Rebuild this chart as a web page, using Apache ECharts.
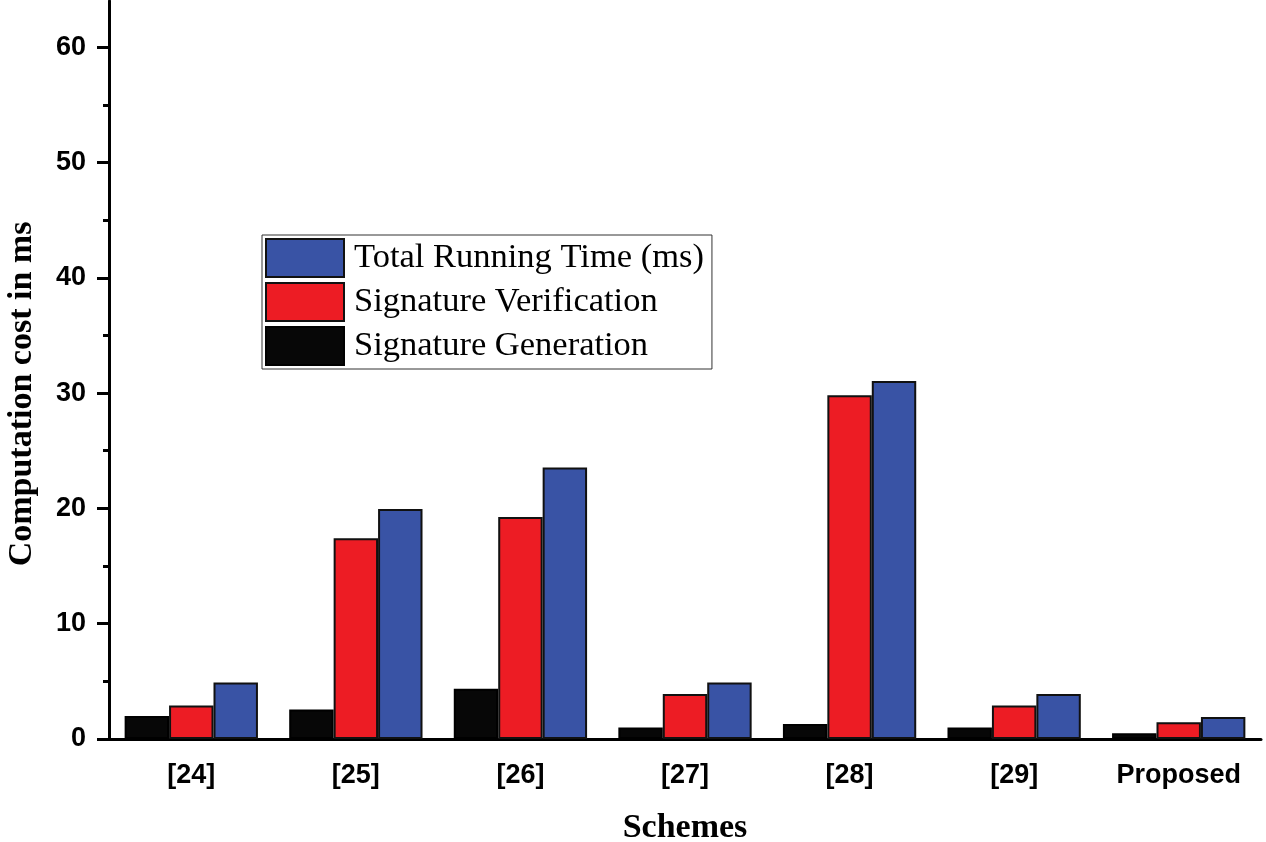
<!DOCTYPE html>
<html>
<head>
<meta charset="utf-8">
<script src="https://cdn.jsdelivr.net/npm/echarts@6/dist/echarts.min.js"></script>
<style>
html,body{margin:0;padding:0;background:#fff;}
#c{width:1266px;height:842px;}
</style>
</head>
<body>
<div id="c"></div>
<script>
const categories = ['[24]', '[25]', '[26]', '[27]', '[28]', '[29]', 'Proposed'];
const signatureGeneration = [2, 2.55, 4.35, 1, 1.3, 1, 0.5];
const signatureVerification = [2.9, 17.4, 19.25, 3.9, 29.8, 2.9, 1.45];
const totalRunningTime = [4.9, 19.95, 23.55, 4.9, 31.05, 3.9, 1.9];
const majorTicks = [0, 10, 20, 30, 40, 50, 60];
const minorTicks = [5, 15, 25, 35, 45, 55];
const seriesNames = ['Signature Generation', 'Signature Verification', 'Total Running Time (ms)'];

const chart = echarts.init(document.getElementById('c'), null, {renderer: 'canvas'});
const axisCol = '#000';
const barBase = {
  type: 'bar',
  barGap: '0%',
  barCategoryGap: '19%',
  xAxisIndex: 0,
  yAxisIndex: 0
};
chart.setOption({
  animation: false,
  backgroundColor: '#fff',
  grid: {left: 109, right: 5, top: 1, bottom: 103, containLabel: false, outerBoundsMode: 'none'},
  legend: {
    orient: 'vertical',
    left: 262,
    top: 235,
    data: [seriesNames[2], seriesNames[1], seriesNames[0]],
    icon: 'rect',
    itemWidth: 78,
    itemHeight: 38,
    itemGap: 4,
    padding: [3, 8, 3, 3],
    borderColor: '#333',
    borderWidth: 1,
    borderRadius: 0,
    textStyle: {fontFamily: 'Liberation Serif', fontSize: 34.5, color: '#000', padding: [0, 0, 0, 5]}
  },
  xAxis: [{
    type: 'category',
    data: categories,
    axisLine: {lineStyle: {color: axisCol, width: 3}},
    axisTick: {alignWithLabel: true, length: 12, lineStyle: {color: axisCol, width: 3}},
    axisLabel: {fontFamily: 'Liberation Sans', fontWeight: 'bold', fontSize: 27, color: '#000', margin: 23},
    name: 'Schemes',
    nameLocation: 'middle',
    nameGap: 72,
    nameTextStyle: {fontFamily: 'Liberation Serif', fontWeight: 'bold', fontSize: 34, color: '#000'}
  }, {
    type: 'category',
    data: categories,
    position: 'bottom',
    axisLine: {show: false},
    axisTick: {length: 7, lineStyle: {color: axisCol, width: 3}},
    axisLabel: {show: false}
  }],
  yAxis: [{
    type: 'value',
    min: 0,
    max: 64,
    interval: 10,
    splitLine: {show: false},
    axisLine: {show: true, lineStyle: {color: axisCol, width: 3}},
    axisTick: {show: true, length: 12, customValues: majorTicks, lineStyle: {color: axisCol, width: 3}},
    axisLabel: {customValues: majorTicks, fontFamily: 'Liberation Sans', fontWeight: 'bold', fontSize: 27, color: '#000', margin: 23},
    name: 'Computation cost in ms',
    nameLocation: 'middle',
    nameGap: 70,
    nameTextStyle: {fontFamily: 'Liberation Serif', fontWeight: 'bold', fontSize: 34, color: '#000', padding: [0, 48, 0, 0]}
  }, {
    type: 'value',
    min: 0,
    max: 64,
    interval: 10,
    position: 'left',
    splitLine: {show: false},
    axisLine: {show: false},
    axisTick: {show: true, length: 6, customValues: minorTicks, lineStyle: {color: axisCol, width: 3}},
    axisLabel: {show: false}
  }],
  series: [
    Object.assign({}, barBase, {name: seriesNames[0], data: signatureGeneration,
      itemStyle: {color: '#070707', borderColor: '#000', borderWidth: 2}}),
    Object.assign({}, barBase, {name: seriesNames[1], data: signatureVerification,
      itemStyle: {color: '#ED1C24', borderColor: '#111', borderWidth: 2}}),
    Object.assign({}, barBase, {name: seriesNames[2], data: totalRunningTime,
      itemStyle: {color: '#3953A5', borderColor: '#111', borderWidth: 2}})
  ]
});
</script>
</body>
</html>
